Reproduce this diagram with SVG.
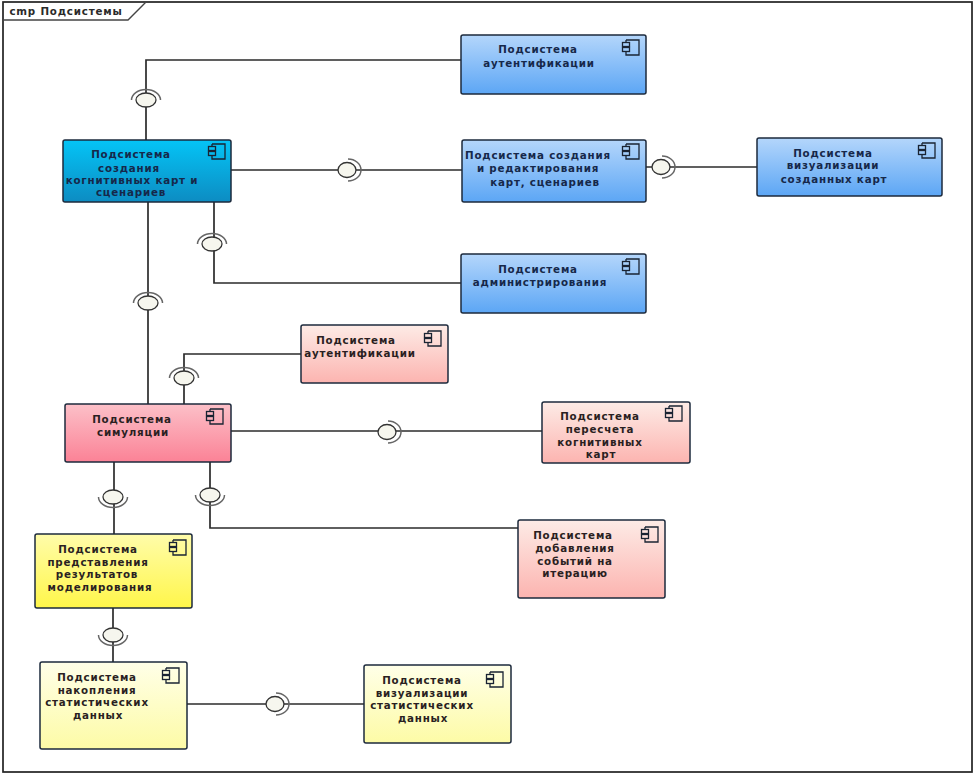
<svg xmlns="http://www.w3.org/2000/svg" width="976" height="774" viewBox="0 0 976 774">
<defs>
<linearGradient id="gBlue" x1="0" y1="0" x2="0" y2="1"><stop offset="0" stop-color="#b4d6fb"/><stop offset="1" stop-color="#5ca6f5"/></linearGradient>
<linearGradient id="gCyan" x1="0" y1="0" x2="0" y2="1"><stop offset="0" stop-color="#04c4f6"/><stop offset="1" stop-color="#0d8cc2"/></linearGradient>
<linearGradient id="gPinkL" x1="0" y1="0" x2="0" y2="1"><stop offset="0" stop-color="#fdebe6"/><stop offset="1" stop-color="#fcb4b0"/></linearGradient>
<linearGradient id="gPink" x1="0" y1="0" x2="0" y2="1"><stop offset="0" stop-color="#fcc0c8"/><stop offset="1" stop-color="#fb8296"/></linearGradient>
<linearGradient id="gYellow" x1="0" y1="0" x2="0" y2="1"><stop offset="0" stop-color="#fffcaa"/><stop offset="1" stop-color="#fff64a"/></linearGradient>
<linearGradient id="gYellowL" x1="0" y1="0" x2="0" y2="1"><stop offset="0" stop-color="#ffffe8"/><stop offset="1" stop-color="#fdfba6"/></linearGradient>
<g id="icon" fill="none" stroke="#1a2433" stroke-width="1.3">
<path d="M4 1H17V16H4V12M4 4V1M4 7.500V8.500"/>
<rect x="0.500" y="3.500" width="7" height="4"/>
<rect x="0.500" y="8.500" width="7" height="4"/>
</g>
<g id="sockT"><path class="a" d="M-14.500 0A14.500 10.500 0 0 1 14.500 0"/><ellipse class="r" rx="10" ry="7"/></g>
<g id="sockB"><path class="a" d="M-14.500 0A14.500 10.500 0 0 0 14.500 0"/><ellipse class="r" rx="10" ry="7"/></g>
<g id="sockR"><path class="a" d="M1 -11A13 11 0 0 1 1 11"/><ellipse class="r" rx="9" ry="7.500"/></g>
</defs>
<style>
.n{stroke:#1d2a3c;stroke-width:1.5}
.c{fill:none;stroke:#2b2b2b;stroke-width:1.7}
.a{fill:none;stroke:#666;stroke-width:1.5}
.r{fill:#f6f6ee;stroke:#333;stroke-width:1.3}
text{font-family:"DejaVu Sans",Verdana,sans-serif;font-size:10.3px;letter-spacing:.8px;font-weight:bold;fill:#16284a;text-anchor:middle}
.d text{fill:#2a1f22}
</style>
<rect width="976" height="774" fill="#fff"/>
<g id="frame">
<rect x="3" y="2" width="969" height="770" fill="none" stroke="#222" stroke-width="1.7"/>
<path d="M3 20H128L146 2" fill="none" stroke="#444" stroke-width="1.4"/>
<text x="66" y="15" style="fill:#2a2a2a">cmp Подсистемы</text>
</g>
<g id="connectors">
<path class="c" d="M146 140V60H461"/>
<path class="c" d="M231 170H462"/>
<path class="c" d="M646 167H757"/>
<path class="c" d="M214 202V283H461"/>
<path class="c" d="M148 202V404"/>
<path class="c" d="M184 404V354H301"/>
<path class="c" d="M231 431H542"/>
<path class="c" d="M114 462V534"/>
<path class="c" d="M210 462V528H518"/>
<path class="c" d="M113 608V662"/>
<path class="c" d="M187 704H364"/>
<g id="sockets">
<use href="#sockT" x="146" y="100"/>
<use href="#sockR" x="347" y="170"/>
<use href="#sockR" x="661" y="167"/>
<use href="#sockT" x="212" y="244"/>
<use href="#sockT" x="148" y="303"/>
<use href="#sockT" x="184" y="378"/>
<use href="#sockR" x="387" y="432"/>
<use href="#sockB" x="113" y="497"/>
<use href="#sockB" x="210" y="495"/>
<use href="#sockB" x="113" y="635"/>
<use href="#sockR" x="275" y="704"/>
</g>
</g>
<g id="auth1"><rect class="n" x="461" y="35" width="185" height="59" rx="2" fill="url(#gBlue)"/><use href="#icon" x="622" y="39"/><text x="538" y="53">Подсистема</text><text x="539" y="67">аутентификации</text></g>
<g id="create"><rect class="n" x="63" y="140" width="168" height="62" rx="2" fill="url(#gCyan)"/><use href="#icon" x="208" y="143"/><text x="131" y="158">Подсистема</text><text x="129" y="172">создания</text><text x="132" y="184">когнитивных карт и</text><text x="131" y="196">сценариев</text></g>
<g id="edit"><rect class="n" x="462" y="140" width="184" height="62" rx="2" fill="url(#gBlue)"/><use href="#icon" x="622" y="143"/><text x="538" y="159">Подсистема создания</text><text x="538" y="172">и редактирования</text><text x="545" y="186">карт, сценариев</text></g>
<g id="vis1"><rect class="n" x="757" y="138" width="185" height="58" rx="2" fill="url(#gBlue)"/><use href="#icon" x="918" y="142"/><text x="833" y="157">Подсистема</text><text x="833" y="169">визуализации</text><text x="834" y="183">созданных карт</text></g>
<g id="admin"><rect class="n" x="461" y="254" width="185" height="59" rx="2" fill="url(#gBlue)"/><use href="#icon" x="622" y="258"/><text x="538" y="273">Подсистема</text><text x="540" y="286">администрирования</text></g>
<g id="auth2" class="d"><rect class="n" x="301" y="325" width="147" height="58" rx="2" fill="url(#gPinkL)"/><use href="#icon" x="424" y="330"/><text x="356" y="344">Подсистема</text><text x="360" y="357">аутентификации</text></g>
<g id="sim" class="d"><rect class="n" x="65" y="404" width="166" height="58" rx="2" fill="url(#gPink)"/><use href="#icon" x="206" y="408"/><text x="132" y="423">Подсистема</text><text x="133" y="436">симуляции</text></g>
<g id="recalc" class="d"><rect class="n" x="542" y="402" width="148" height="61" rx="2" fill="url(#gPinkL)"/><use href="#icon" x="665" y="405"/><text x="600" y="420">Подсистема</text><text x="600" y="433">пересчета</text><text x="600" y="446">когнитивных</text><text x="601" y="458">карт</text></g>
<g id="events" class="d"><rect class="n" x="518" y="520" width="147" height="78" rx="2" fill="url(#gPinkL)"/><use href="#icon" x="641" y="526"/><text x="573" y="539">Подсистема</text><text x="575" y="552">добавления</text><text x="575" y="565">событий на</text><text x="575" y="577">итерацию</text></g>
<g id="results" class="d"><rect class="n" x="35" y="534" width="157" height="74" rx="2" fill="url(#gYellow)"/><use href="#icon" x="169" y="539"/><text x="98" y="553">Подсистема</text><text x="98" y="566">представления</text><text x="97" y="578">результатов</text><text x="100" y="591">моделирования</text></g>
<g id="accum" class="d"><rect class="n" x="40" y="662" width="147" height="87" rx="2" fill="url(#gYellowL)"/><use href="#icon" x="162" y="667"/><text x="97" y="681">Подсистема</text><text x="97" y="694">накопления</text><text x="97" y="706">статистических</text><text x="98" y="719">данных</text></g>
<g id="vis2" class="d"><rect class="n" x="364" y="665" width="147" height="78" rx="2" fill="url(#gYellowL)"/><use href="#icon" x="486" y="671"/><text x="422" y="684">Подсистема</text><text x="422" y="697">визуализации</text><text x="422" y="709">статистических</text><text x="423" y="722">данных</text></g>
</svg>
